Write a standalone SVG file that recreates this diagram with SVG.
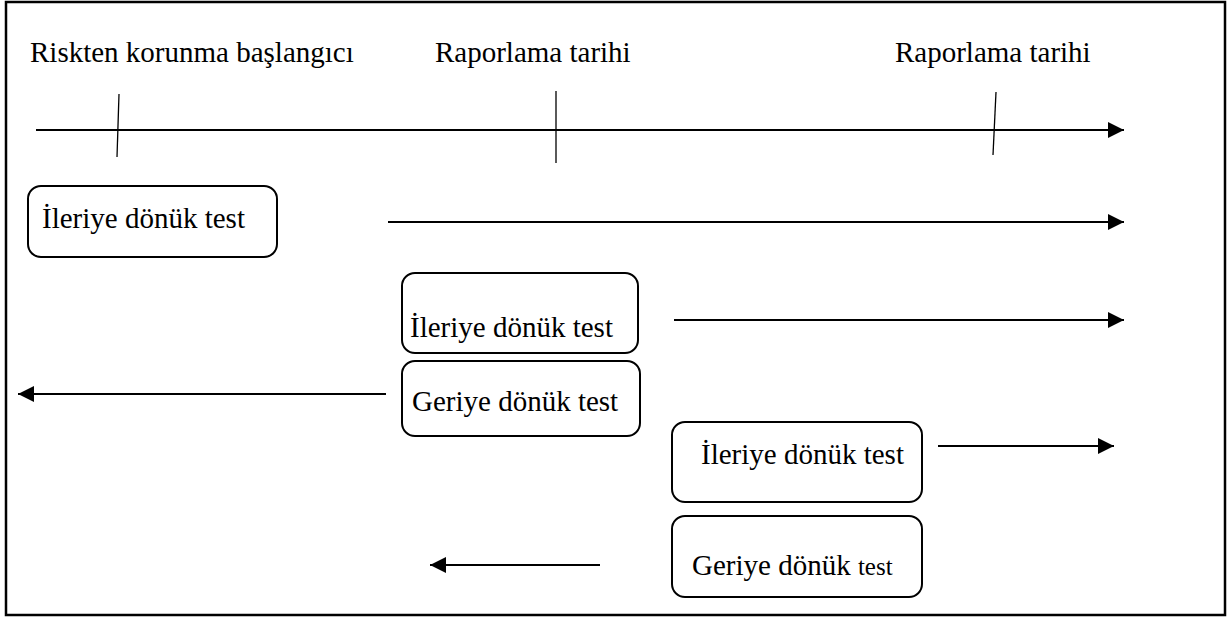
<svg xmlns="http://www.w3.org/2000/svg" width="1227" height="618" viewBox="0 0 1227 618">
<style>
.box{fill:#fff;stroke:#000;stroke-width:2}
.ln{stroke:#000;stroke-width:2;fill:none}
.tk{stroke:#000;stroke-width:1.3;fill:none}
</style>
<defs>
<marker id="ah" markerWidth="16" markerHeight="16" refX="16" refY="8" orient="auto" markerUnits="userSpaceOnUse">
<path d="M0,0 L16,8 L0,16 Z" fill="#000"/>
</marker>
</defs>
<rect x="6" y="2" width="1219" height="613" fill="#fff" stroke="#000" stroke-width="2.5"/>
<g font-family="'Liberation Serif', 'Times New Roman', serif" font-size="29" fill="#000">
<g id="labels">
<text x="30" y="62">Riskten korunma başlangıcı</text>
<text x="435" y="62">Raporlama tarihi</text>
<text x="895" y="62">Raporlama tarihi</text>
</g>
<g id="connectors">
<line class="ln" x1="36" y1="130" x2="1124" y2="130" marker-end="url(#ah)"/>
<line class="tk" x1="119" y1="94" x2="117" y2="157"/>
<line class="tk" x1="556" y1="91" x2="556" y2="163"/>
<line class="tk" x1="996" y1="92" x2="993" y2="155"/>
<line class="ln" x1="388" y1="222" x2="1124" y2="222" marker-end="url(#ah)"/>
<line class="ln" x1="674" y1="320" x2="1124" y2="320" marker-end="url(#ah)"/>
<line class="ln" x1="386" y1="394" x2="18" y2="394" marker-end="url(#ah)"/>
<line class="ln" x1="938" y1="446" x2="1114" y2="446" marker-end="url(#ah)"/>
<line class="ln" x1="600" y1="565" x2="430" y2="565" marker-end="url(#ah)"/>
</g>
<g id="node1">
<rect class="box" x="28" y="186" width="249" height="71" rx="13"/>
<text x="42" y="228">İleriye dönük test</text>
</g>
<g id="node2">
<rect class="box" x="402" y="273" width="236" height="80" rx="13"/>
<text x="410" y="337">İleriye dönük test</text>
</g>
<g id="node3">
<rect class="box" x="402" y="361" width="238" height="75" rx="13"/>
<text x="412" y="411">Geriye dönük test</text>
</g>
<g id="node4">
<rect class="box" x="672" y="422" width="250" height="80" rx="13"/>
<text x="701" y="464">İleriye dönük test</text>
</g>
<g id="node5">
<rect class="box" x="672" y="516" width="250" height="81" rx="13"/>
<text x="692" y="575">Geriye dönük <tspan font-size="25">test</tspan></text>
</g>
</g>
</svg>
